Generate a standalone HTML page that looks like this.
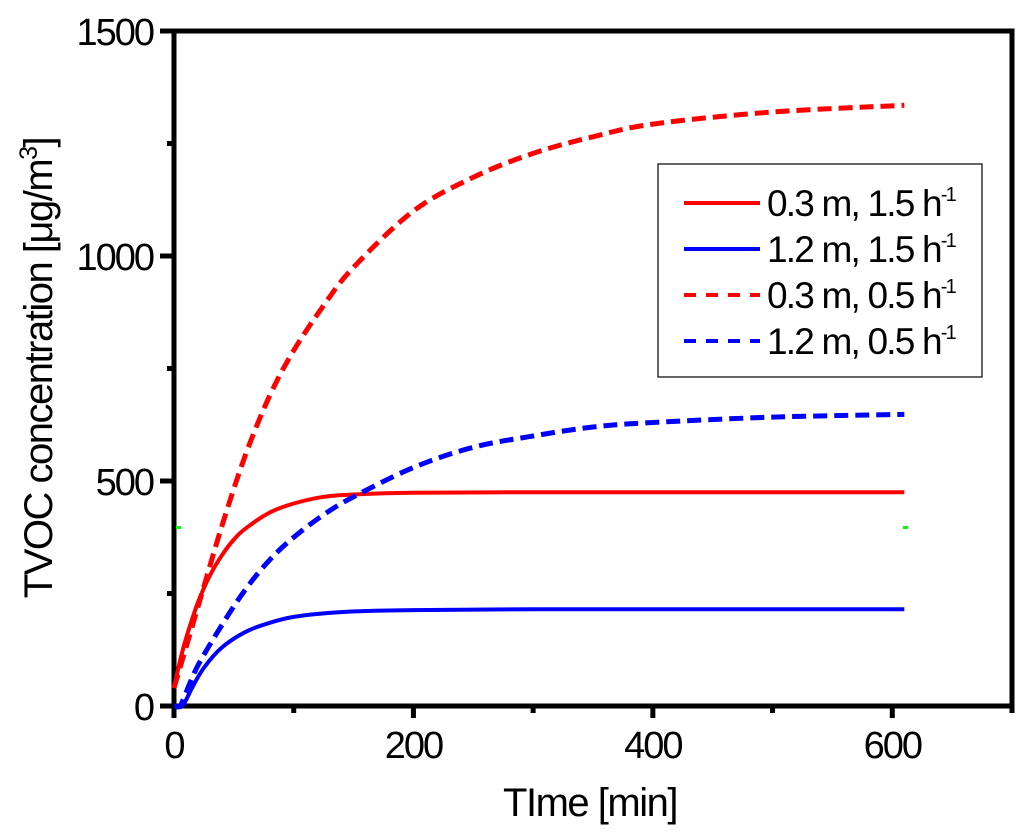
<!DOCTYPE html>
<html><head><meta charset="utf-8"><style>
body{margin:0;background:#fff;}
svg text{font-family:"Liberation Sans",sans-serif;fill:#000;}
</style></head><body>
<svg id="chart" width="1024" height="833" viewBox="0 0 1024 833">
<g id="axes"></g><g id="series"></g><g id="legend"></g>
</svg>
<script>
const xTicks=[0,200,400,600];
const yTicks=[0,500,1000,1500];
const redSolidT=[0,5,10,20,30,40,50,60,80,100,125,150,200,300,400,500,610];
const redSolidV=[40,100,150,230,290,335,370,395,430,450,465,470,474,475,475,475,475];
const blueSolidT=[0,7,15,25,40,60,80,100,130,160,200,300,400,500,610];
const blueSolidV=[0,0,40,85,130,165,185,198,207,211,213,215,215,215,215];
const redDashT=[0,20,40,60,80,100,125,150,200,250,300,350,400,500,610];
const redDashV=[40,220,400,560,690,790,890,975,1100,1175,1228,1265,1293,1320,1335];
const blueDashT=[0,5,10,20,40,60,80,100,125,150,200,250,300,350,400,500,610];
const blueDashV=[0,0,30,90,180,260,325,375,425,465,530,575,600,620,630,642,648];
const legendLabels=["0.3 m, 1.5 h","1.2 m, 1.5 h","0.3 m, 0.5 h","1.2 m, 0.5 h"];

const NS="http://www.w3.org/2000/svg";
const X0=174,X1=1012,Y0=706,Y1=31;
const xs=v=>X0+(v/700)*(X1-X0);
const ys=v=>Y0-(v/1500)*(Y0-Y1);
function mk(tag,attrs,parent){const e=document.createElementNS(NS,tag);for(const k in attrs)e.setAttribute(k,attrs[k]);parent.appendChild(e);return e;}
const axes=document.getElementById('axes'),ser=document.getElementById('series'),leg=document.getElementById('legend');

const frame=mk('rect',{x:X0,y:Y1,width:X1-X0,height:Y0-Y1,fill:'none',stroke:'#000','stroke-width':5},axes);


for(let v=0;v<=700;v+=100){
  const t=mk('line',{x1:xs(v),x2:xs(v),y1:Y0,y2:Y0+(v%200==0?12:7),stroke:'#000','stroke-width':5},axes);
  
  
}
xTicks.forEach(v=>{
  const t=mk('text',{x:xs(v),y:Y0+52,'text-anchor':'middle','font-size':38,'letter-spacing':-2},axes);t.textContent=v;
  
  
});
for(let v=0;v<=1500;v+=250){
  const t=mk('line',{x1:X0,x2:X0-(v%500==0?14:7),y1:ys(v),y2:ys(v),stroke:'#000','stroke-width':5},axes);
  
  
}
yTicks.forEach(v=>{
  const t=mk('text',{x:153,y:ys(v)+14,'text-anchor':'end','font-size':38,'letter-spacing':-2},axes);t.textContent=v;
  
  
});
const xt=mk('text',{x:590,y:816,'text-anchor':'middle','font-size':40,'letter-spacing':-1.5},axes);xt.textContent='TIme [min]';


const yt=mk('text',{x:0,y:0,'text-anchor':'middle','font-size':40,'letter-spacing':-1.5,transform:'translate(52,368) rotate(-90)'},axes);
yt.innerHTML='TVOC concentration [μg/m<tspan dy="-15" font-size="25">3</tspan><tspan dy="15">]</tspan>';


[[176,526],[903,526]].forEach(p=>{const g=mk('rect',{x:p[0],y:p[1],width:5,height:3,fill:'#00ff00'},axes);

});

function line(T,V,color,dash,name){
  const P=T.map((t,i)=>[xs(t),ys(V[i])]);
  let d='M'+P[0][0].toFixed(1)+','+P[0][1].toFixed(1);
  for(let i=0;i<P.length-1;i++){
    const p0=P[Math.max(i-1,0)],p1=P[i],p2=P[i+1],p3=P[Math.min(i+2,P.length-1)];
    const c1=[p1[0]+(p2[0]-p0[0])/6,p1[1]+(p2[1]-p0[1])/6],c2=[p2[0]-(p3[0]-p1[0])/6,p2[1]-(p3[1]-p1[1])/6];
    d+=' C'+c1.map(v=>v.toFixed(1)).join(',')+' '+c2.map(v=>v.toFixed(1)).join(',')+' '+p2.map(v=>v.toFixed(1)).join(',');
  }
  const p=mk('path',{d:d,fill:'none',stroke:color,'stroke-width':dash?5:4,'stroke-dasharray':dash?'14,7':'none','stroke-linejoin':'round'},ser);
  
  
}
line(redSolidT,redSolidV,'#ff0000',false,'series-0-3m-1-5h');
line(blueSolidT,blueSolidV,'#0000ff',false,'series-1-2m-1-5h');
line(redDashT,redDashV,'#ff0000',true,'series-0-3m-0-5h');
line(blueDashT,blueDashV,'#0000ff',true,'series-1-2m-0-5h');

const box=mk('rect',{x:658,y:164,width:324,height:213,fill:'#fff',stroke:'#333','stroke-width':1.5},leg);


const lc=['#ff0000','#0000ff','#ff0000','#0000ff'];
legendLabels.forEach((s,i)=>{
  const y=203+i*46;
  const l=mk('line',{x1:684,x2:760,y1:y,y2:y,stroke:lc[i],'stroke-width':4,'stroke-dasharray':i>1?'12,10':'none'},leg);
  
  
  const t=mk('text',{x:767,y:y+13,'font-size':37,'letter-spacing':-1.8},leg);
  t.innerHTML=s+'<tspan dy="-15" font-size="20">-1</tspan>';
  
  
});
</script>
</body></html>
